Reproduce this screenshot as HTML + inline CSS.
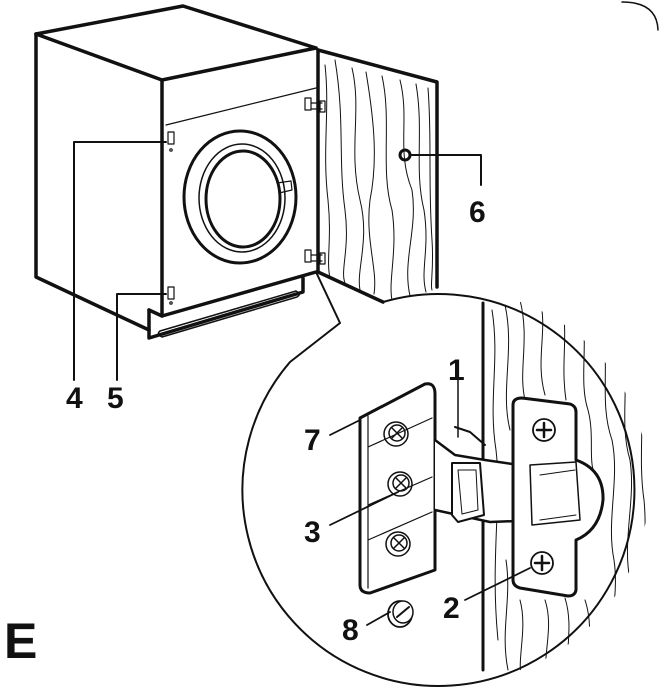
<!DOCTYPE html>
<html><head><style>
html,body{margin:0;padding:0;background:#fff;}
svg{display:block}
text{font-family:"Liberation Sans",Arial,sans-serif;font-weight:bold;fill:#111}
</style></head><body>
<svg width="660" height="692" viewBox="0 0 660 692" xmlns="http://www.w3.org/2000/svg" fill="none" stroke="#111" stroke-linejoin="round" stroke-linecap="round">
<defs><clipPath id="c"><circle cx="453" cy="486" r="196"/></clipPath></defs>
<!-- frame corner -->
<path d="M622,2 Q657,2 658,30" stroke-width="1.5"/>
<!-- cabinet -->
<g stroke-width="3.5">
<path d="M36,34 L183,6 L316,48"/>
<path d="M36,34 L162,80 L316,48"/>
<path d="M36,34 L36,277 L149,330"/>
<path d="M162,80 L162,316"/>
<path d="M149,310 L149,338 L303,292 L303,278"/>
<path d="M149,310 L162,316 L316,272"/>
</g>
<path d="M166,125 L316,88" stroke-width="1.2"/>
<path d="M160,331 L296,291 Q302,294 297,297 L162,337 Q156,334 160,331Z" stroke-width="1.5"/>
<!-- porthole -->
<ellipse cx="240" cy="197" rx="56" ry="66" stroke-width="3"/>
<ellipse cx="242" cy="198" rx="43" ry="54" stroke-width="1.5"/>
<ellipse cx="243" cy="199" rx="37" ry="48" stroke-width="3"/>
<path d="M277,183 L291,181 L292,190 L279,193" stroke-width="1.2"/>
<!-- hinges on cabinet -->
<g stroke-width="1.2">
<rect x="305" y="98" width="6" height="12"/><path d="M311,103 L322,103 M311,109 L322,109"/><rect x="320" y="101" width="5" height="11"/>
<rect x="305" y="250" width="6" height="12"/><path d="M311,255 L322,255 M311,261 L322,261"/><rect x="320" y="253" width="5" height="11"/>
<rect x="168" y="132" width="6" height="12"/><circle cx="171" cy="150" r="1.2"/>
<rect x="168" y="287" width="6" height="12"/><circle cx="171" cy="303" r="1.2"/>
</g>
<!-- door -->
<path d="M318,50 L437,82 L437,287" stroke-width="3.5"/>
<path d="M318,50 L318,272 L383,302" stroke-width="3.5"/>
<g stroke-width="1">
<path d="M325,65 C330,110 322,150 328,200 C332,240 326,260 330,278"/>
<path d="M335,60 C345,120 338,160 345,210 C350,250 340,270 345,283"/>
<path d="M352,68 C362,110 348,150 360,200 C370,240 356,270 360,290"/>
<path d="M366,72 C374,120 378,160 370,200 C365,240 378,270 374,294"/>
<path d="M382,76 C392,120 380,170 392,210 C398,250 388,280 392,300"/>
<path d="M400,80 C410,120 396,150 412,190 C418,230 402,260 410,296"/>
<path d="M416,84 C424,130 414,170 424,210 C430,250 420,270 426,292"/>
<path d="M428,88 C432,140 428,180 432,240 C434,270 430,285 432,290"/>
</g>
<circle cx="405" cy="155" r="5" stroke-width="3"/>
<!-- leaders -->
<g stroke-width="2">
<path d="M410,155 L481,155 L481,185"/>
<path d="M166,142 L74,142 L74,380"/>
<path d="M166,294 L117,294 L117,380"/>
</g>
<!-- magnifier -->
<path d="M383,302 A196,196 0 1 1 290,362 L340,323 L316,272" stroke-width="2"/>
<path d="M483,303 L483,670" stroke-width="3"/>
<g stroke-width="1" clip-path="url(#c)">
<path d="M492,310 C500,360 488,400 496,450 C502,500 490,560 498,640"/>
<path d="M505,305 C515,350 500,390 510,430 M506,560 C512,600 500,630 508,670"/>
<path d="M520,300 C530,340 518,370 525,400 M520,600 C528,630 516,660 522,680"/>
<path d="M540,300 C548,330 535,360 545,395 M545,600 C555,630 540,660 548,685"/>
<path d="M560,300 C570,330 560,360 566,400 M565,598 C575,630 562,660 570,686"/>
<path d="M580,305 C590,340 578,380 588,410 C596,440 585,470 600,480 M585,600 C595,630 585,660 590,682"/>
<path d="M600,320 C612,360 598,400 612,440 C620,480 606,520 614,560 C620,600 605,640 610,670"/>
<path d="M620,340 C632,380 618,420 630,460 C636,500 622,540 630,580 C634,610 625,630 628,650"/>
<path d="M640,380 C645,420 638,460 644,500 C648,540 640,580 642,610"/>
</g>
<!-- mounting plate 7 -->
<path d="M360,418 L425,384 Q435,382 435,394 L435,570 L370,593 Q360,593 360,585 Z" stroke-width="3" fill="#fff"/>
<path d="M368,416 L368,588 M368,447 L432,418 M368,505 L432,477 M368,540 L432,512" stroke-width="1.2"/>
<g stroke-width="1.5">
<circle cx="396" cy="434" r="12"/><circle cx="397" cy="433" r="8"/><path d="M392,438 L402,428 M392,428 L402,438"/>
<circle cx="400" cy="484" r="12"/><circle cx="401" cy="483" r="8"/><path d="M396,488 L406,478 M396,478 L406,488"/>
<circle cx="398" cy="544" r="12"/><circle cx="399" cy="543" r="8"/><path d="M394,548 L404,538 M394,538 L404,548"/>
</g>
<!-- hinge arm -->
<path d="M435,440 L455,455 L485,460 L540,468 L545,520 L490,522 L435,510" stroke-width="2.5" fill="#fff"/>
<path d="M452,463 L480,463 L484,515 L458,522 L452,515 Z" stroke-width="2" fill="#fff"/>
<path d="M458,470 L476,470 L478,510 L462,514 Z" stroke-width="1"/>
<path d="M455,427 L470,432 L485,445" stroke-width="2"/>
<path d="M458,380 L458,437" stroke-width="1.5"/>
<!-- hinge cup plate -->
<path d="M513,405 Q513,398 522,398 L570,404 Q576,406 576,412 L576,460 Q604,470 603,500 Q600,530 576,540 L576,590 Q575,596 568,596 L520,588 Q513,586 513,580 Z" stroke-width="3" fill="#fff"/>
<path d="M530,465 L576,462 L580,520 L532,525 Z" stroke-width="1.5"/>
<path d="M540,475 L575,470 M540,520 L576,515" stroke-width="1"/>
<circle cx="544" cy="430" r="11" stroke-width="1.8"/><path d="M544,423 L544,437 M537,430 L551,430" stroke-width="2.5"/>
<circle cx="542" cy="563" r="11" stroke-width="1.8"/><path d="M542,556 L542,570 M535,563 L549,563" stroke-width="2.5"/>
<!-- nut 8 -->
<ellipse cx="400" cy="614" rx="12" ry="13" stroke-width="1.8" fill="#fff"/>
<ellipse cx="403" cy="612" rx="10" ry="11" stroke-width="1.5" fill="#fff"/>
<path d="M397,617 L409,607" stroke-width="2"/>
<!-- leaders in circle -->
<g stroke-width="1.8">
<path d="M330,435 L360,420"/>
<path d="M330,525 L398,492"/>
<path d="M465,600 L530,568"/>
<path d="M367,625 L390,612"/>
</g>
<!-- labels -->
<g font-size="30" stroke="none">
<text x="66" y="408">4</text>
<text x="107" y="408">5</text>
<text x="469" y="222">6</text>
<text x="448" y="380">1</text>
<text x="304" y="450">7</text>
<text x="304" y="542">3</text>
<text x="443" y="618">2</text>
<text x="342" y="640">8</text>
<text x="4" y="658" font-size="50">E</text>
</g>
</svg>
</body></html>
